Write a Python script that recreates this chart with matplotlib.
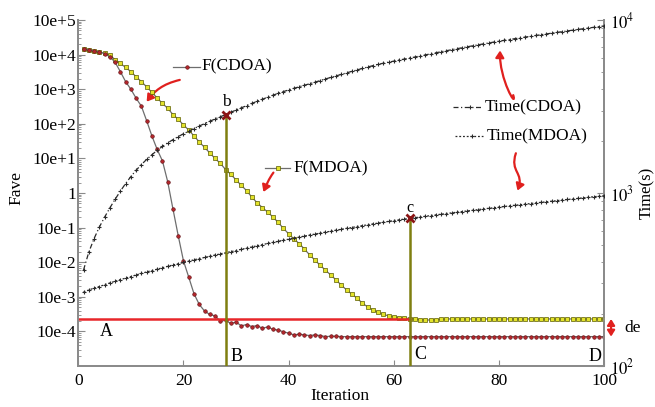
import numpy as np
import matplotlib
matplotlib.use('Agg')
import matplotlib.pyplot as plt
from matplotlib.ticker import LogLocator, NullFormatter, FixedLocator, FixedFormatter
from matplotlib.patches import FancyArrowPatch
from matplotlib.path import Path
from matplotlib.lines import Line2D

plt.rcParams['font.family'] = ['Liberation Serif', 'DejaVu Serif']
plt.rcParams['mathtext.fontset'] = 'stix'

# ---------------- data ----------------
iterations = list(range(1, 101))

# log10 of Fave (left axis)
f_cdoa_log10 = [4.16, 4.14, 4.11, 4.08, 4.03, 3.94, 3.78, 3.51, 3.22, 3.00,
                2.74, 2.51, 2.09, 1.65, 1.26, 0.93, 0.33, -0.46, -1.23, -1.96,
                -2.43, -2.91, -3.22, -3.41, -3.51, -3.55, -3.70, -3.68, -3.77, -3.73,
                -3.84, -3.80, -3.86, -3.83, -3.91, -3.87, -3.94, -3.96, -4.01, -4.05,
                -4.10, -4.08, -4.10, -4.12, -4.10, -4.12, -4.15, -4.14, -4.14, -4.15,
                -4.15, -4.15, -4.15, -4.15, -4.15, -4.15, -4.15, -4.15, -4.15, -4.15,
                -4.15, -4.15, -4.15, -4.15, -4.15, -4.15, -4.15, -4.15, -4.15, -4.15,
                -4.15, -4.15, -4.15, -4.15, -4.15, -4.15, -4.15, -4.15, -4.15, -4.15,
                -4.15, -4.15, -4.15, -4.15, -4.15, -4.15, -4.15, -4.15, -4.15, -4.15,
                -4.15, -4.15, -4.15, -4.15, -4.15, -4.15, -4.15, -4.15, -4.15, -4.15]

f_mdoa_log10 = [4.16, 4.13, 4.10, 4.08, 4.04, 3.98, 3.86, 3.75, 3.63, 3.51,
                3.36, 3.22, 3.07, 2.91, 2.75, 2.59, 2.45, 2.27, 2.13, 1.97,
                1.82, 1.65, 1.48, 1.32, 1.16, 1.00, 0.86, 0.68, 0.54, 0.38,
                0.22, 0.07, -0.12, -0.28, -0.42, -0.55, -0.69, -0.85, -1.02, -1.18,
                -1.33, -1.46, -1.62, -1.79, -1.94, -2.09, -2.23, -2.37, -2.51, -2.66,
                -2.80, -2.92, -3.04, -3.18, -3.29, -3.38, -3.45, -3.51, -3.55, -3.58,
                -3.60, -3.61, -3.63, -3.64, -3.66, -3.67, -3.67, -3.66, -3.65, -3.64,
                -3.64, -3.64, -3.64, -3.64, -3.64, -3.64, -3.64, -3.64, -3.64, -3.64,
                -3.64, -3.64, -3.64, -3.64, -3.64, -3.64, -3.64, -3.64, -3.64, -3.64,
                -3.64, -3.64, -3.64, -3.64, -3.64, -3.64, -3.64, -3.64, -3.64, -3.64]

# cumulative time in seconds (right axis)
time_cdoa = [359, 455, 545, 635, 725, 820, 920, 1025, 1135, 1245,
             1355, 1460, 1565, 1665, 1765, 1860, 1950, 2035, 2120, 2200,
             2280, 2360, 2440, 2520, 2600, 2680, 2760, 2840, 2930, 3020,
             3110, 3200, 3295, 3390, 3485, 3580, 3675, 3770, 3860, 3945,
             4030, 4115, 4200, 4285, 4375, 4470, 4565, 4660, 4755, 4850,
             4950, 5050, 5150, 5250, 5350, 5450, 5545, 5630, 5710, 5790,
             5870, 5950, 6030, 6115, 6200, 6290, 6380, 6470, 6560, 6650,
             6740, 6830, 6920, 7010, 7100, 7190, 7280, 7370, 7460, 7550,
             7635, 7720, 7805, 7890, 7975, 8060, 8145, 8230, 8315, 8400,
             8485, 8570, 8655, 8740, 8825, 8910, 8995, 9080, 9165, 9250]

time_mdoa = [268, 275, 282, 288, 295, 302, 309, 316, 322, 329,
             336, 343, 350, 356, 363, 370, 377, 384, 390, 397,
             404, 411, 418, 424, 431, 438, 445, 452, 458, 465,
             473, 480, 488, 496, 503, 511, 518, 526, 534, 541,
             549, 556, 564, 572, 579, 587, 594, 602, 610, 617,
             625, 632, 640, 648, 655, 663, 670, 678, 686, 693,
             700, 707, 713, 720, 727, 734, 741, 748, 754, 761,
             768, 775, 782, 788, 795, 802, 809, 816, 822, 829,
             836, 843, 850, 856, 863, 870, 877, 884, 890, 897,
             904, 911, 918, 924, 931, 938, 945, 952, 958, 965]

iter_b = 28   # CDOA reaches the target accuracy
iter_c = 63   # MDOA reaches the target accuracy

x_ticks = [0, 20, 40, 60, 80, 100]
f_tick_exps = [5, 4, 3, 2, 1, 0, -1, -2, -3, -4]
f_tick_labels = ['10e+5', '10e+4', '10e+3', '10e+2', '10e+1', '1',
                 '10e-1', '10e-2', '10e-3', '10e-4']
time_ticks = [100, 1000, 10000]
time_tick_labels = ['$10^2$', '$10^3$', '$10^4$']

# ---------------- figure ----------------
fig = plt.figure(figsize=(6.55, 4.07), dpi=100)
ax = fig.add_axes([0.1195, 0.1007, 0.803, 0.850])
ax2 = ax.twinx()

it = np.array(iterations)
f_cdoa = 10.0 ** np.array(f_cdoa_log10)
f_mdoa = 10.0 ** np.array(f_mdoa_log10)
t_cdoa = np.array(time_cdoa, dtype=float)
t_mdoa = np.array(time_mdoa, dtype=float)

spine_col = '#8a8a8a'
line_gray = '#6e6e6e'
red_fill, red_edge = '#b3262b', '#5e0f12'
yel_fill, yel_edge = '#e3e32a', '#5c5c00'
time_col = '#2a2a2a'
ls_cdoa = (0, (4, 2, 1, 2))
ls_mdoa = (0, (1.5, 1.5))
f_ms = 2.6

ax.set_yscale('log')
ax.set_xlim(0, 100)
ax.set_ylim(1e-5, 1e5)

ax.plot(it, f_mdoa, color=line_gray, lw=0.9, marker='s', ms=f_ms,
        mfc=yel_fill, mec=yel_edge, mew=0.5, zorder=3)
ax.plot(it, f_cdoa, color=line_gray, lw=0.9, marker='o', ms=f_ms,
        mfc=red_fill, mec=red_edge, mew=0.4, zorder=4)

# accuracy reference line (value of F(MDOA) at point C)
ax.plot([0, iter_c], [f_mdoa[iter_c - 1]] * 2, color='#e8262a', lw=1.8, zorder=5)

ax2.set_yscale('log')
ax2.set_ylim(100, 10000)
ax2.plot(it, t_cdoa, color=time_col, lw=0.9, ls=ls_cdoa, marker='+', ms=3.2,
         mew=0.8, zorder=3)
ax2.plot(it, t_mdoa, color=time_col, lw=0.9, ls=ls_mdoa, marker='+', ms=3.2,
         mew=0.8, zorder=3)

olive = '#7f7f10'
ax2.vlines(iter_b, 100, t_cdoa[iter_b - 1], color=olive, lw=1.8, zorder=4)
ax2.vlines(iter_c, 100, t_mdoa[iter_c - 1], color=olive, lw=1.8, zorder=4)
ax2.plot([iter_b], [t_cdoa[iter_b - 1]], marker='x', color='#8b1515', ms=6, mew=2, zorder=6)
ax2.plot([iter_c], [t_mdoa[iter_c - 1]], marker='x', color='#8b1515', ms=6, mew=2, zorder=6)

# ---------------- axes styling ----------------
ax.set_xticks(x_ticks)
ax.set_xticklabels([str(v) for v in x_ticks])
ax.yaxis.set_major_locator(FixedLocator([10.0 ** e for e in f_tick_exps]))
ax.yaxis.set_major_formatter(FixedFormatter(f_tick_labels))
ax.yaxis.set_minor_locator(LogLocator(base=10, subs=np.arange(2, 10), numticks=30))
ax.yaxis.set_minor_formatter(NullFormatter())

ax2.yaxis.set_major_locator(FixedLocator(time_ticks))
ax2.yaxis.set_major_formatter(FixedFormatter(time_tick_labels))
ax2.yaxis.set_minor_locator(LogLocator(base=10, subs=np.arange(2, 10), numticks=10))
ax2.yaxis.set_minor_formatter(NullFormatter())

for a in (ax, ax2):
    a.spines['top'].set_visible(False)
    for s in ('left', 'right', 'bottom'):
        a.spines[s].set_color(spine_col)
        a.spines[s].set_linewidth(1.3)

ax.tick_params(axis='x', which='both', direction='in', length=4, color=spine_col,
               labelsize=12.5, pad=5, top=False)
ax.tick_params(axis='y', which='major', direction='in', length=5, color=spine_col,
               labelsize=12.5, pad=1.5, right=False)
ax.tick_params(axis='y', which='minor', direction='in', length=2.5, color=spine_col,
               right=False)
ax2.tick_params(axis='y', which='major', direction='in', length=5, color=spine_col,
                labelsize=12, pad=4.5)
ax2.tick_params(axis='y', which='minor', direction='in', length=2.5, color=spine_col)

ax.set_xlabel('Iteration', fontsize=12.5)
ax.xaxis.set_label_coords(0.498, -0.064)
ax.set_ylabel('Fave', fontsize=12.5)
ax.yaxis.set_label_coords(-0.103, 0.514)
ax2.set_ylabel('Time(s)', fontsize=12)
ax2.yaxis.set_label_coords(1.066, 0.5)

# ---------------- annotations ----------------
T = ax.transAxes
fs = 12.5

def legend_item(x0, x1, y, text, tx, **kw):
    ax.add_line(Line2D([x0, x1], [y, y], transform=T, clip_on=False, **kw))
    ax.text(tx, y, text, transform=T, fontsize=fs, ha='left', va='center')

legend_item(0.181, 0.231, 0.865, 'F(CDOA)', 0.234, color=line_gray, lw=0.9)
ax.plot([0.206], [0.865], transform=T, marker='o', ms=f_ms, mfc=red_fill, mec=red_edge,
        mew=0.4, clip_on=False)
legend_item(0.355, 0.403, 0.571, 'F(MDOA)', 0.410, color=line_gray, lw=0.9)
ax.plot([0.380], [0.571], transform=T, marker='s', ms=f_ms, mfc=yel_fill, mec=yel_edge,
        mew=0.5, clip_on=False)
legend_item(0.713, 0.767, 0.748, 'Time(CDOA)', 0.773, color=time_col, lw=0.9, ls=ls_cdoa)
ax.plot([0.745], [0.748], transform=T, marker='+', ms=3.2, mew=0.8, color=time_col,
        clip_on=False)
legend_item(0.716, 0.770, 0.665, 'Time(MDOA)', 0.776, color=time_col, lw=0.9, ls=ls_mdoa)
ax.plot([0.748], [0.665], transform=T, marker='+', ms=3.2, mew=0.8, color=time_col,
        clip_on=False)

arrow_red = '#e0201e'

def curvy(verts, codes):
    p = FancyArrowPatch(path=Path(verts, codes), arrowstyle='-|>,head_length=4,head_width=2.5',
                        color=arrow_red, lw=1.6, transform=T, clip_on=False)
    ax.add_patch(p)

C4 = Path.CURVE4
curvy([(0.193, 0.827), (0.160, 0.815), (0.145, 0.795), (0.130, 0.764)],
      [Path.MOVETO, C4, C4, C4])
curvy([(0.371, 0.559), (0.362, 0.540), (0.358, 0.525), (0.352, 0.503)],
      [Path.MOVETO, C4, C4, C4])
curvy([(0.827, 0.783), (0.835, 0.740), (0.800, 0.830), (0.802, 0.912)],
      [Path.MOVETO, C4, C4, C4])
curvy([(0.832, 0.615), (0.820, 0.560), (0.848, 0.560), (0.835, 0.507)],
      [Path.MOVETO, C4, C4, C4])

# de arrow between the two converged values
de_arrow = FancyArrowPatch((101.3, f_mdoa[-1]), (101.3, f_cdoa[-1]),
                           arrowstyle='<|-|>,head_length=3.5,head_width=2.2',
                           color=arrow_red, lw=1.6, shrinkA=0, shrinkB=0,
                           mutation_scale=1, transform=ax.transData, clip_on=False)
ax.add_patch(de_arrow)
ax.text(1.054, 0.110, 'de', transform=T, fontsize=fs, ha='center', va='center')

for lab, x, y in [('A', 0.054, 0.099), ('B', 0.301, 0.027), ('C', 0.650, 0.032),
                  ('D', 0.982, 0.027)]:
    ax.text(x, y, lab, transform=T, fontsize=13, ha='center', va='center')
ax.text(0.282, 0.764, 'b', transform=T, fontsize=12.5, ha='center', va='center')
ax.text(0.630, 0.458, 'c', transform=T, fontsize=11.5, ha='center', va='center')

fig.savefig('out.png', dpi=100, facecolor='white')
